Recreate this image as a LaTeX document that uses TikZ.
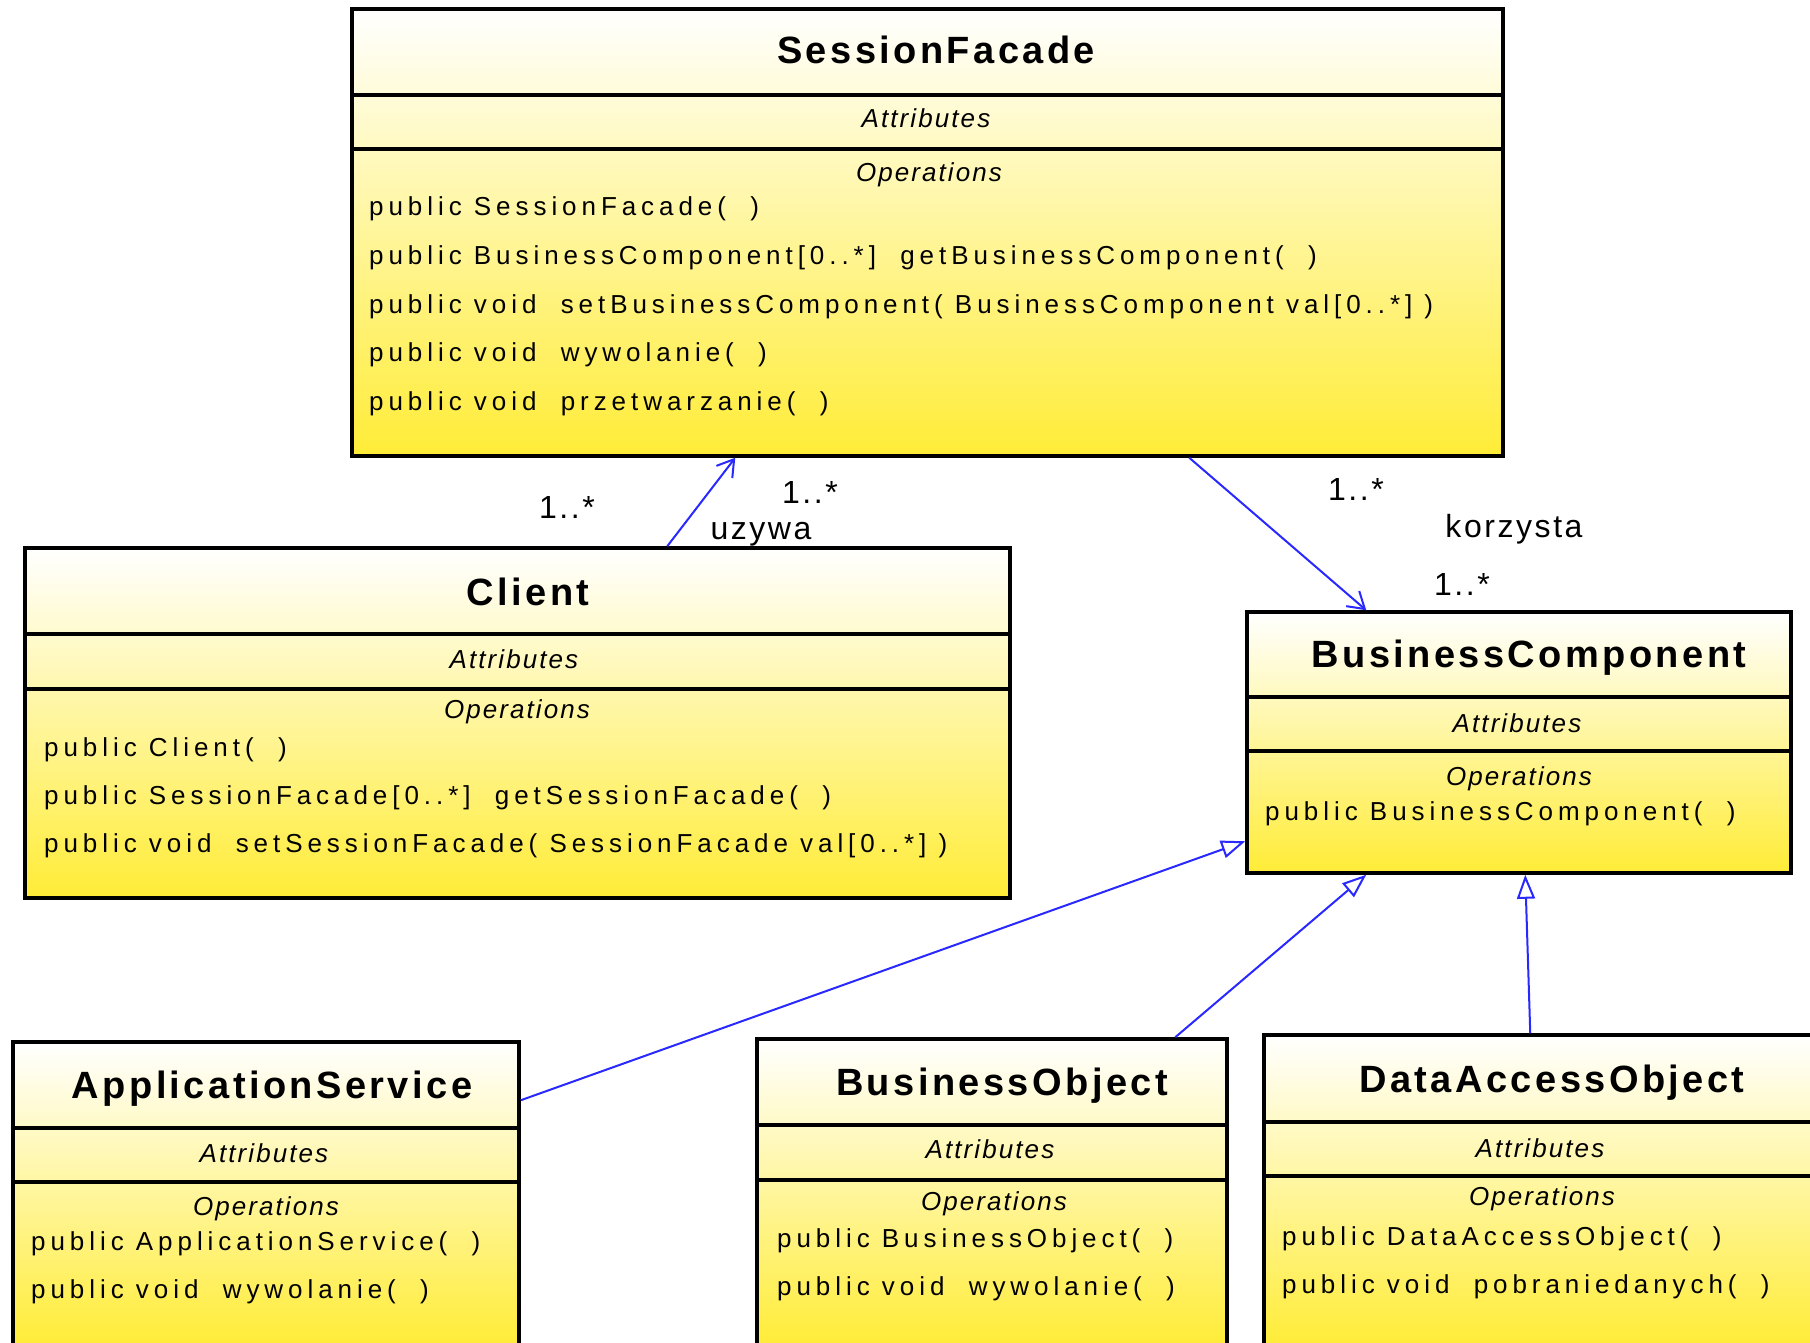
\documentclass[tikz,border=0pt]{standalone}
\usepackage{fontspec}
\setmainfont{Liberation Sans}
\newfontfamily\opsfont[LetterSpace=19]{Liberation Sans}
\newfontfamily\titlefont[LetterSpace=9]{Liberation Sans}
\newfontfamily\compfont[LetterSpace=8]{Liberation Sans}
\newfontfamily\labelfont[LetterSpace=8]{Liberation Sans}
\usetikzlibrary{arrows.meta}

\definecolor{umlyellow}{RGB}{255,236,55}
\definecolor{umlpale}{RGB}{255,251,172}
\definecolor{linkblue}{RGB}{40,40,255}

% empty parameter list as printed by the modelling tool
\newcommand\noargs{(\ \ )}

\tikzset{
  umlbox/.style={draw=black, line width=3.5pt, top color=white, middle color=umlpale, bottom color=umlyellow, inner sep=0pt},
  divider/.style={draw=black, line width=3.5pt},
  classtitle/.style={anchor=base, inner sep=0pt, font=\titlefont\bfseries\fontsize{38}{44}\selectfont},
  comptitle/.style={anchor=base, inner sep=0pt, font=\compfont\itshape\fontsize{26}{30}\selectfont},
  optext/.style={anchor=base west, inner sep=0pt, font=\opsfont\fontsize{26}{30}\selectfont},
  mult/.style={anchor=base, inner sep=0pt, font=\labelfont\fontsize{32}{36}\selectfont},
  assoc/.style={draw=linkblue, line width=2pt, -{Straight Barb[length=16pt,width=20pt]}},
  inherit/.style={draw=linkblue, line width=2pt, -{Triangle[open,length=24pt,width=18pt]}},
}

\begin{document}
\begin{tikzpicture}[x=1pt,y=-1pt]
\path[use as bounding box] (0,0) rectangle (1810,1343);
\clip (0,0) rectangle (1810,1343);
\fill[white] (0,0) rectangle (1810,1343);

% ---- SessionFacade
\node[umlbox, minimum width=1151pt, minimum height=447pt] (sf) at (927.5,232.5) {};
\draw[divider] (sf.west |- 0,95) -- (sf.east |- 0,95);
\draw[divider] (sf.west |- 0,149) -- (sf.east |- 0,149);
\node[classtitle] (sftitle) at (936,64) {SessionFacade};
\node[comptitle] (sfattr) at (926,128) {Attributes};
\node[comptitle] (sfops) at (929,182) {Operations};
\node[optext] (sfop1) at (369,216) {public SessionFacade\noargs};
\node[optext] (sfop2) at (369,264.5) {public BusinessComponent[0..*]\ \ getBusinessComponent\noargs};
\node[optext] (sfop3) at (369,313) {public void\ \ setBusinessComponent( BusinessComponent val[0..*] )};
\node[optext] (sfop4) at (369,361.5) {public void\ \ wywolanie\noargs};
\node[optext] (sfop5) at (369,410) {public void\ \ przetwarzanie\noargs};

% ---- Client
\node[umlbox, minimum width=985pt, minimum height=350pt] (client) at (517.5,723) {};
\draw[divider] (client.west |- 0,634) -- (client.east |- 0,634);
\draw[divider] (client.west |- 0,689) -- (client.east |- 0,689);
\node[classtitle] (cltitle) at (528,605) {Client};
\node[comptitle] (clattr) at (514,668) {Attributes};
\node[comptitle] (clops) at (517,718) {Operations};
\node[optext] (clop1) at (44,756) {public Client\noargs};
\node[optext] (clop2) at (44,804) {public SessionFacade[0..*]\ \ getSessionFacade\noargs};
\node[optext] (clop3) at (44,852) {public void\ \ setSessionFacade( SessionFacade val[0..*] )};

% ---- BusinessComponent
\node[umlbox, minimum width=544pt, minimum height=261pt] (bc) at (1519,742.5) {};
\draw[divider] (bc.west |- 0,697) -- (bc.east |- 0,697);
\draw[divider] (bc.west |- 0,751) -- (bc.east |- 0,751);
\node[classtitle] (bctitle) at (1529,667) {BusinessComponent};
\node[comptitle] (bcattr) at (1517,732) {Attributes};
\node[comptitle] (bcops) at (1519,785) {Operations};
\node[optext] (bcop1) at (1265,820) {public BusinessComponent\noargs};

% ---- ApplicationService
\node[umlbox, minimum width=506pt, minimum height=304pt] (as) at (266,1194) {};
\draw[divider] (as.west |- 0,1128) -- (as.east |- 0,1128);
\draw[divider] (as.west |- 0,1182) -- (as.east |- 0,1182);
\node[classtitle] (astitle) at (272,1098) {ApplicationService};
\node[comptitle] (asattr) at (264,1162) {Attributes};
\node[comptitle] (asops) at (266,1215) {Operations};
\node[optext] (asop1) at (31,1250) {public ApplicationService\noargs};
\node[optext] (asop2) at (31,1298) {public void\ \ wywolanie\noargs};

% ---- BusinessObject
\node[umlbox, minimum width=470pt, minimum height=307pt] (bo) at (992,1192.5) {};
\draw[divider] (bo.west |- 0,1125) -- (bo.east |- 0,1125);
\draw[divider] (bo.west |- 0,1180) -- (bo.east |- 0,1180);
\node[classtitle] (botitle) at (1002,1095) {BusinessObject};
\node[comptitle] (boattr) at (990,1158) {Attributes};
\node[comptitle] (boops) at (994,1210) {Operations};
\node[optext] (boop1) at (777,1247) {public BusinessObject\noargs};
\node[optext] (boop2) at (777,1295) {public void\ \ wywolanie\noargs};

% ---- DataAccessObject
\node[umlbox, minimum width=551pt, minimum height=311pt] (dao) at (1539.5,1190.5) {};
\draw[divider] (dao.west |- 0,1122) -- (dao.east |- 0,1122);
\draw[divider] (dao.west |- 0,1176) -- (dao.east |- 0,1176);
\node[classtitle] (daotitle) at (1552,1092) {DataAccessObject};
\node[comptitle] (daoattr) at (1540,1157) {Attributes};
\node[comptitle] (daoops) at (1542,1205) {Operations};
\node[optext] (daoop1) at (1282,1245) {public DataAccessObject\noargs};
\node[optext] (daoop2) at (1282,1293) {public void\ \ pobraniedanych\noargs};

% ---- associations
\draw[assoc] ([xshift=644pt]client.north west) -- ([xshift=385pt]sf.south west);
\draw[assoc] ([xshift=839pt]sf.south west) -- ([xshift=121pt]bc.north west);

% ---- generalizations
\draw[inherit] ([yshift=-60pt]as.north east) -- ([yshift=-231pt]bc.north west);
\draw[inherit] ([xshift=420pt]bo.north west) -- ([xshift=121pt]bc.south west);
\draw[inherit] ([xshift=268pt]dao.north west) -- ([xshift=280pt]bc.south west);

% ---- association labels
\node[mult] (mclient) at (567,518) {1..*};
\node[mult] (msfleft) at (810,503) {1..*};
\node[mult] (uzywa) at (761,539) {uzywa};
\node[mult] (msfright) at (1356,500) {1..*};
\node[mult] (korzysta) at (1514,537) {korzysta};
\node[mult] (mbc) at (1462,595) {1..*};
\end{tikzpicture}
\end{document}
